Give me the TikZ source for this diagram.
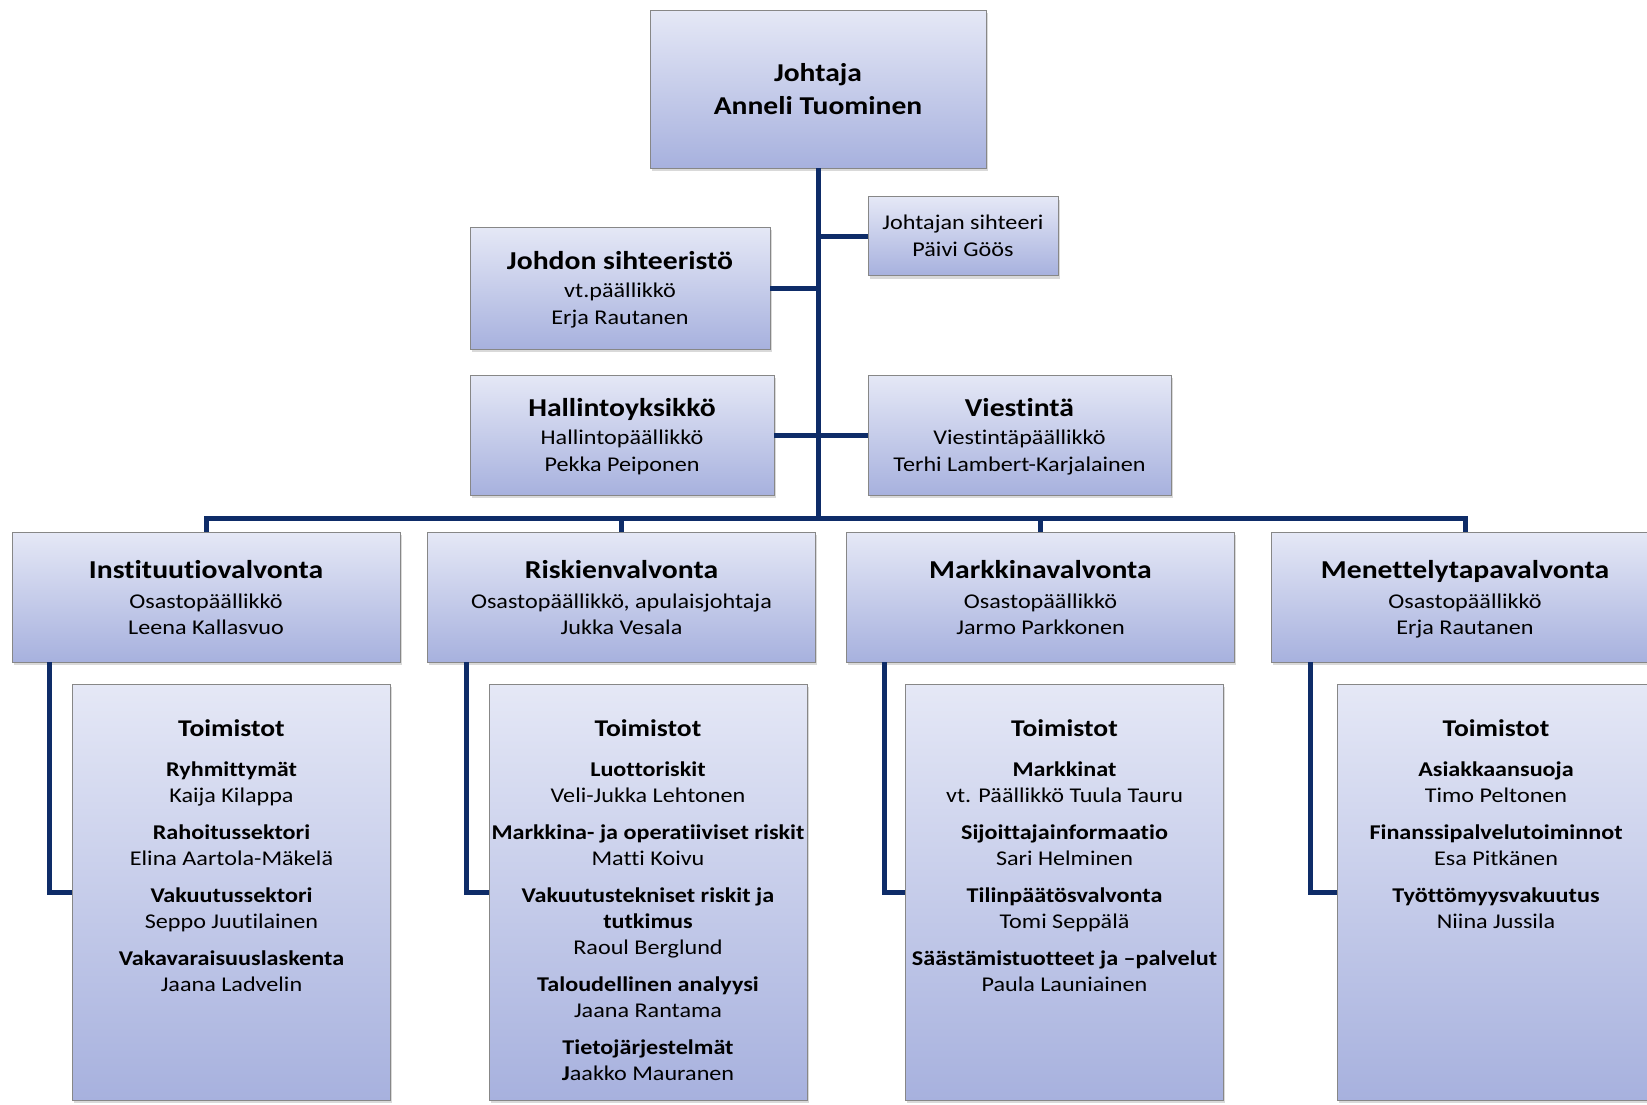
\documentclass[tikz,border=0pt]{standalone}
\usepackage{fontspec}
\setmainfont[FakeStretch=1.15, Ligatures=NoCommon]{Carlito}
\usetikzlibrary{shadows}

\definecolor{linkblue}{RGB}{14,44,104}
\definecolor{boxtop}{RGB}{229,232,246}
\definecolor{boxbottom}{RGB}{167,177,222}
\definecolor{boxedge}{RGB}{135,135,135}

\newcommand{\headsize}{\fontsize{25.7}{33}\selectfont}
\newcommand{\titlesize}{\fontsize{25.8}{30}\selectfont}
\newcommand{\subsize}{\fontsize{21}{27}\selectfont}
\newcommand{\deptsize}{\fontsize{21}{26}\selectfont}
\newcommand{\officesize}{\fontsize{21}{26}\selectfont}

% One office: bold unit, then the person.
\newcommand{\office}[2]{\textbf{#1}\\#2}
\newcommand{\officebox}[1]{\parbox[t][416pt][t]{318pt}{\centering\officesize
    \rule{0pt}{52pt}{\fontsize{24}{26}\selectfont\bfseries Toimistot}\\[14pt]#1}}

\begin{document}
\begin{tikzpicture}[x=1pt, y=-1pt,
    box/.style={draw=boxedge, line width=0.8pt, top color=boxtop, bottom color=boxbottom,
        drop shadow={shadow xshift=1.5pt, shadow yshift=-3pt, opacity=0.3},
        align=center, inner sep=0pt},
    staff/.style={box, font=\subsize, text depth=0pt},
    dept/.style={box, minimum width=388pt, minimum height=130pt, font=\deptsize, text depth=0pt},
    officestyle/.style={box, minimum width=318pt, minimum height=416pt},
    link/.style={draw=linkblue, line width=5pt}]
    \useasboundingbox (0,0) rectangle (1647,1104);

    % Director and staff.
    \node[box, minimum width=336pt, minimum height=158pt, font=\headsize\bfseries] (johtaja) at (818,89) {Johtaja\\Anneli Tuominen};
    \node[staff, minimum width=190pt, minimum height=79pt] (sihteeri) at (963,236) {Johtajan sihteeri\\Päivi Göös};
    \node[staff, minimum width=300pt, minimum height=122pt] (sihteeristo) at (620,288) {{\titlesize\bfseries Johdon sihteeristö}\\[1pt]vt.päällikkö\\Erja Rautanen};
    \node[staff, minimum width=304pt, minimum height=120pt] (hallinto) at (622,435) {{\titlesize\bfseries Hallintoyksikkö}\\[1pt]Hallintopäällikkö\\Pekka Peiponen};
    \node[staff, minimum width=303pt, minimum height=120pt] (viestinta) at (1019.5,435) {{\titlesize\bfseries Viestintä}\\[1pt]Viestintäpäällikkö\\Terhi Lambert-Karjalainen};

    % Departments.
    \node[dept] (inst) at (206,597) {{\titlesize\bfseries Instituutiovalvonta}\\[4pt]Osastopäällikkö\\Leena Kallasvuo};
    \node[dept] (risk) at (621.5,597) {{\titlesize\bfseries Riskienvalvonta}\\[4pt]Osastopäällikkö, apulaisjohtaja\\Jukka Vesala};
    \node[dept] (mark) at (1040.5,597) {{\titlesize\bfseries Markkinavalvonta}\\[4pt]Osastopäällikkö\\Jarmo Parkkonen};
    \node[dept] (men) at (1465,597) {{\titlesize\bfseries Menettelytapavalvonta}\\[4pt]Osastopäällikkö\\Erja Rautanen};

    % Offices.
    \node[officestyle] (t1) at (231.5,892) {\officebox{%
        \office{Ryhmittymät}{Kaija Kilappa}\\[11pt]
        \office{Rahoitussektori}{Elina Aartola-Mäkelä}\\[11pt]
        \office{Vakuutussektori}{Seppo Juutilainen}\\[11pt]
        \office{Vakavaraisuuslaskenta}{Jaana Ladvelin}}};
    \node[officestyle] (t2) at (648,892) {\officebox{%
        \office{Luottoriskit}{Veli-Jukka Lehtonen}\\[11pt]
        \office{Markkina- ja operatiiviset riskit}{Matti Koivu}\\[11pt]
        \textbf{Vakuutustekniset riskit ja}\\\office{tutkimus}{Raoul Berglund}\\[11pt]
        \office{Taloudellinen analyysi}{Jaana Rantama}\\[11pt]
        \office{Tietojärjestelmät}{\textbf{J}aakko Mauranen}}};
    \node[officestyle] (t3) at (1064.5,892) {\officebox{%
        \office{Markkinat}{vt. Päällikkö Tuula Tauru}\\[11pt]
        \office{Sijoittajainformaatio}{Sari Helminen}\\[11pt]
        \office{Tilinpäätösvalvonta}{Tomi Seppälä}\\[11pt]
        \office{Säästämistuotteet ja –palvelut}{Paula Launiainen}}};
    \node[officestyle] (t4) at (1496,892) {\officebox{%
        \office{Asiakkaansuoja}{Timo Peltonen}\\[11pt]
        \office{Finanssipalvelutoiminnot}{Esa Pitkänen}\\[11pt]
        \office{Työttömyysvakuutus}{Niina Jussila}}};

    % Lines from the director.
    \coordinate (bus) at (818,518);
    \draw[link] (johtaja.south) -- (bus);
    \draw[link] (sihteeri.west) -- (sihteeri.west -| bus);
    \draw[link] (sihteeristo.east) -- (sihteeristo.east -| bus);
    \draw[link] (hallinto.east) -- (viestinta.west);
    \draw[link] (inst.north) |- (bus) -| (men.north);
    \draw[link] (risk.north) -- (risk.north |- bus);
    \draw[link] (mark.north) -- (mark.north |- bus);

    % Lines to the offices.
    \draw[link] ([xshift=38pt]inst.south west) |- (t1.west);
    \draw[link] ([xshift=39pt]risk.south west) |- (t2.west);
    \draw[link] ([xshift=38pt]mark.south west) |- (t3.west);
    \draw[link] ([xshift=40pt]men.south west) |- (t4.west);
\end{tikzpicture}
\end{document}
